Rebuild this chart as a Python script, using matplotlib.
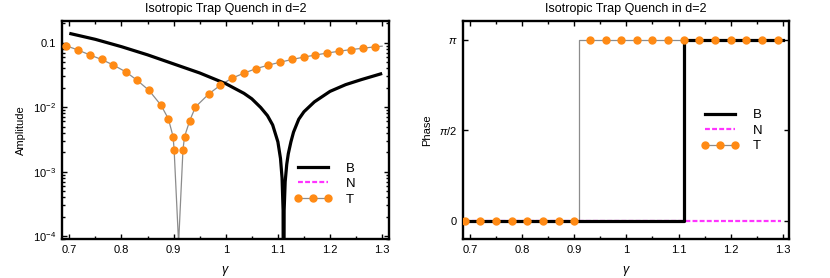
import numpy as np
import matplotlib
matplotlib.use("Agg")
import matplotlib.pyplot as plt
from matplotlib.ticker import FixedLocator, FixedFormatter, MultipleLocator, LogLocator, NullFormatter
from matplotlib.lines import Line2D

plt.rcParams['font.family'] = ['Liberation Sans', 'DejaVu Sans']
plt.rcParams['mathtext.fontset'] = 'custom'
plt.rcParams['mathtext.rm'] = 'Liberation Sans'
plt.rcParams['mathtext.it'] = 'Liberation Sans:italic'

TITLE = "Isotropic Trap Quench in d=2"

# ---- Amplitude panel data ----
gamma_B_amp = [0.70, 0.75, 0.80, 0.85, 0.90, 0.95, 1.00, 1.035, 1.05, 1.067, 1.08, 1.09,
               1.10, 1.105, 1.108, 1.110, 1.111, 1.112, 1.114, 1.117, 1.12, 1.125, 1.13,
               1.14, 1.15, 1.17, 1.20, 1.23, 1.26, 1.30]
amp_B = [0.140, 0.113, 0.087, 0.065, 0.047, 0.034, 0.0232, 0.0164, 0.0135, 0.0099, 0.0074, 0.0053,
         0.0029, 0.0016, 0.0008, 0.00025, 1e-7, 0.00025, 0.0007, 0.0013, 0.0019, 0.0029, 0.0041,
         0.0065, 0.0085, 0.0121, 0.0176, 0.0224, 0.0268, 0.0334]

gamma_T_amp = [0.694, 0.717, 0.739, 0.762, 0.784, 0.808, 0.830, 0.853, 0.876, 0.890, 0.899, 0.901,
               0.918, 0.921, 0.931, 0.942, 0.967, 0.989, 1.012, 1.035, 1.058, 1.081, 1.104, 1.127,
               1.150, 1.172, 1.195, 1.217, 1.240, 1.263, 1.286]
amp_T = [0.090, 0.077, 0.065, 0.055, 0.0453, 0.0355, 0.0262, 0.0182, 0.0107, 0.0066, 0.0035, 0.0022,
         0.0022, 0.0035, 0.0062, 0.0101, 0.0159, 0.0218, 0.0282, 0.0338, 0.0396, 0.0448, 0.0499, 0.055,
         0.060, 0.0645, 0.0694, 0.0738, 0.0784, 0.0822, 0.0865]
# extra points of the thin T curve (dip to zero and right end)
gamma_T_extra = [0.9092, 0.9096, 0.9100, 1.30]
amp_T_extra = [9e-5, 1e-7, 9e-5, 0.0885]

# ---- Phase panel data ----
gamma_B_ph = [0.69, 1.111, 1.111, 1.30]
phase_B = [0.0, 0.0, np.pi, np.pi]
gamma_N_ph = [0.69, 1.297]
phase_N = [0.0, 0.0]
gamma_T_ph_line = [0.69, 0.909, 0.909, 1.30]
phase_T_line = [0.0, 0.0, np.pi, np.pi]
gamma_T_ph = [0.69, 0.72, 0.75, 0.78, 0.81, 0.84, 0.87, 0.90, 0.93, 0.96, 0.99, 1.02, 1.05,
              1.08, 1.11, 1.14, 1.17, 1.20, 1.23, 1.26, 1.29]
phase_T = [0.0] * 8 + [np.pi] * 13

xticks = [0.7, 0.8, 0.9, 1.0, 1.1, 1.2, 1.3]
xticklabels = ["0.7", "0.8", "0.9", "1", "1.1", "1.2", "1.3"]
amp_ticks = [1e-1, 1e-2, 1e-3, 1e-4]
amp_ticklabels = ["0.1", r"$10^{-2}$", r"$10^{-3}$", r"$10^{-4}$"]
ph_ticks = [0.0, np.pi / 2, np.pi]
ph_ticklabels = ["0", r"$\pi$/2", r"$\pi$"]

ORANGE = '#ff8a14'
GRAY = '#8c8c8c'
MAGENTA = '#ff33ff'
MS = 5.0

fig = plt.figure(figsize=(8.3, 2.78), dpi=100)
axL = fig.add_axes([0.0747, 0.1403, 0.3936, 0.7852])
axR = fig.add_axes([0.5575, 0.1403, 0.3935, 0.7852])

TICKFS = 8
for ax in (axL, axR):
    for s in ax.spines.values():
        s.set_linewidth(1.7)
    ax.tick_params(which='both', direction='in', top=True, right=True, labelsize=TICKFS,
                   width=1.0, pad=4, colors='black')
    ax.tick_params(which='major', length=3.5)
    ax.tick_params(which='minor', length=2.0)
    ax.set_xlim(0.686, 1.3125)
    ax.xaxis.set_major_locator(FixedLocator(xticks))
    ax.xaxis.set_major_formatter(FixedFormatter(xticklabels))
    ax.xaxis.set_minor_locator(MultipleLocator(0.05))
    ax.set_title(TITLE, fontsize=9, pad=6)
    ax.set_xlabel(r"$\gamma$", fontsize=9, labelpad=7)

# ---- Left: amplitude ----
axL.set_yscale('log')
axL.set_ylim(9e-5, 0.22)
pairs = sorted(zip(gamma_T_amp + gamma_T_extra, amp_T + amp_T_extra))
axL.plot([p[0] for p in pairs], [p[1] for p in pairs], color=GRAY, lw=0.9, zorder=2)
axL.plot(gamma_T_amp, amp_T, ls='none', marker='o', ms=MS, mfc=ORANGE, mec=ORANGE, zorder=4)
axL.plot(gamma_B_amp, amp_B, color='black', lw=2.3, zorder=3, solid_capstyle='butt')
axL.yaxis.set_major_locator(FixedLocator(amp_ticks))
axL.yaxis.set_major_formatter(FixedFormatter(amp_ticklabels))
axL.yaxis.set_minor_locator(LogLocator(base=10, subs=np.arange(2, 10)))
axL.yaxis.set_minor_formatter(NullFormatter())
axL.set_ylabel("Amplitude", fontsize=TICKFS, labelpad=5)

# ---- Right: phase ----
axR.set_ylim(-0.1 * np.pi, 1.105 * np.pi)
axR.plot(gamma_T_ph_line, phase_T_line, color=GRAY, lw=0.9, zorder=1)
axR.plot(gamma_N_ph, phase_N, color=MAGENTA, lw=1.6, ls=(0, (2.2, 1.0)), zorder=2)
axR.plot(gamma_B_ph, phase_B, color='black', lw=2.3, zorder=3)
axR.plot(gamma_T_ph, phase_T, ls='none', marker='o', ms=MS, mfc=ORANGE, mec=ORANGE, zorder=4)
axR.yaxis.set_major_locator(FixedLocator(ph_ticks))
axR.yaxis.set_major_formatter(FixedFormatter(ph_ticklabels))
axR.set_ylabel("Phase", fontsize=TICKFS, labelpad=5)

# ---- Legends ----
handles = [Line2D([], [], color='black', lw=2.3),
           Line2D([], [], color=MAGENTA, lw=1.6, ls=(0, (2.2, 1.0))),
           Line2D([], [], color=GRAY, lw=0.9, marker='o', ms=MS, mfc=ORANGE, mec=ORANGE)]
labels = ["B", "N", "T"]
for ax, anchor in ((axL, (0.71, 0.252)), (axR, (0.73, 0.496))):
    ax.legend(handles, labels, loc='center left', bbox_to_anchor=anchor, frameon=False,
              fontsize=9.5, handlelength=2.9, handletextpad=1.0, labelspacing=0.25,
              borderpad=0, borderaxespad=0, numpoints=3)

fig.savefig("out.png", dpi=100)
